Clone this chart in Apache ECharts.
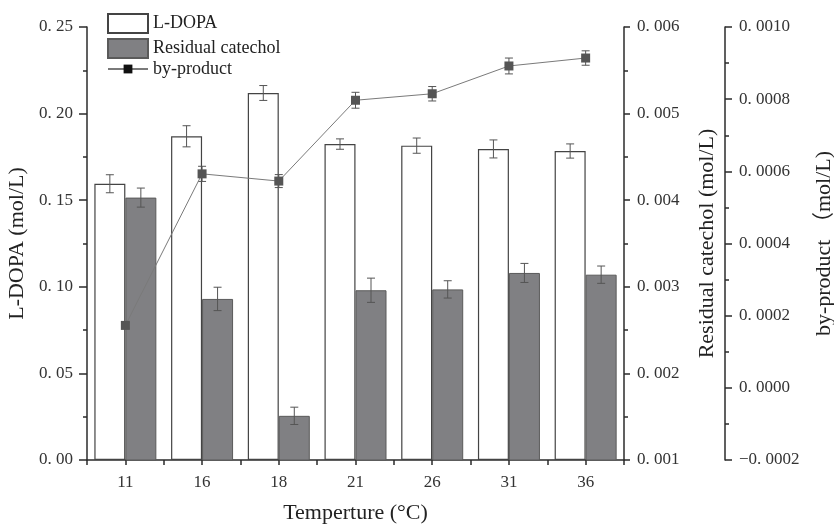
<!DOCTYPE html>
<html>
<head>
<meta charset="utf-8">
<script src="https://cdn.jsdelivr.net/npm/echarts@6/dist/echarts.min.js"></script>
<style>
html,body{margin:0;padding:0;background:#fff;}
#c{width:834px;height:524px;}
</style>
</head>
<body>
<div id="c"></div>
<script>
const categories = ['11', '16', '18', '21', '26', '31', '36'];
const ldopa = [0.1595, 0.1869, 0.2119, 0.1824, 0.1815, 0.1796, 0.1784];
const ldopaErr = [0.0052, 0.0061, 0.0043, 0.0030, 0.0044, 0.0052, 0.0041];
const catechol = [0.00403, 0.00286, 0.00151, 0.00296, 0.00297, 0.00316, 0.00314];
const catecholErr = [0.00011, 0.000135, 0.00010, 0.00014, 0.00010, 0.00011, 0.00010];
const byproduct = [0.000173, 0.000593, 0.000573, 0.000797, 0.000815, 0.000892, 0.000914];
const byproductErr = [0.000008, 0.000021, 0.000018, 0.000022, 0.00002, 0.000022, 0.00002];

const FONT = '"Liberation Serif", "Times New Roman", "Noto Sans CJK SC", serif';
const AXC = '#2b2b2b';

function fmt(d) {
  return function (v) {
    let s = Math.abs(v) < 1e-12 ? (0).toFixed(d) : v.toFixed(d);
    s = s.replace('.', '. ');
    if (s.charAt(0) === '-') s = '\u2212' + s.slice(1);
    return s;
  };
}

function errRender(offset) {
  return function (params, api) {
    const x = api.value(0), v = api.value(1), e = api.value(2);
    const hi = api.coord([x, v + e]);
    const lo = api.coord([x, v - e]);
    const cx = hi[0] + offset;
    const w = 4;
    const st = { stroke: '#555', lineWidth: 1 };
    return {
      type: 'group',
      children: [
        { type: 'line', shape: { x1: cx, y1: hi[1], x2: cx, y2: lo[1] }, style: st },
        { type: 'line', shape: { x1: cx - w, y1: hi[1], x2: cx + w, y2: hi[1] }, style: st },
        { type: 'line', shape: { x1: cx - w, y1: lo[1], x2: cx + w, y2: lo[1] }, style: st }
      ]
    };
  };
}

const chart = echarts.init(document.getElementById('c'), null, { renderer: 'canvas' });

function yAxisBase(extra) {
  return Object.assign({
    type: 'value',
    nameLocation: 'middle',
    nameTextStyle: { fontFamily: FONT, fontSize: 22, color: '#222' },
    axisLine: { show: true, onZero: false, lineStyle: { color: AXC, width: 1.5 } },
    axisTick: { show: true, inside: false, length: 8, lineStyle: { color: AXC, width: 1.5 } },
    minorTick: { show: true, splitNumber: 2, length: 4, lineStyle: { color: AXC, width: 1.5 } },
    splitLine: { show: false },
    axisLabel: { fontFamily: FONT, fontSize: 17, color: '#333' }
  }, extra);
}

const option = {
  animation: false,
  backgroundColor: '#fff',
  grid: { left: 87, right: 210, top: 27, bottom: 64, containLabel: false, outerBoundsMode: 'none' },
  legend: [
    {
      orient: 'vertical',
      left: 107,
      top: 13,
      padding: 0,
      itemWidth: 40,
      itemHeight: 19,
      itemGap: 4,
      textStyle: { fontFamily: FONT, fontSize: 18, color: '#222' },
      data: [
        { name: 'L-DOPA', icon: 'rect' },
        { name: 'Residual catechol', icon: 'rect' }
      ]
    },
    {
      orient: 'vertical',
      left: 107,
      top: 60,
      padding: 0,
      itemWidth: 40,
      itemHeight: 11,
      textStyle: { fontFamily: FONT, fontSize: 18, color: '#222' },
      data: [
        { name: 'by-product', itemStyle: { color: '#111' } }
      ]
    }
  ],
  xAxis: [
    {
      type: 'category',
      data: categories,
      position: 'bottom',
      name: 'Temperture (\u00b0C)',
      nameLocation: 'middle',
      nameGap: 42,
      nameTextStyle: { fontFamily: FONT, fontSize: 22, color: '#222' },
      axisLine: { show: true, onZero: false, lineStyle: { color: AXC, width: 1.5 } },
      axisTick: { show: true, alignWithLabel: true, length: 5, lineStyle: { color: AXC, width: 1.5 } },
      axisLabel: { fontFamily: FONT, fontSize: 17, color: '#333', margin: 14 }
    },
    {
      type: 'category',
      data: categories,
      position: 'bottom',
      axisLine: { show: false, onZero: false },
      axisTick: { show: true, alignWithLabel: false, length: 5, lineStyle: { color: AXC, width: 1.5 } },
      axisLabel: { show: false }
    }
  ],
  yAxis: [
    yAxisBase({
      position: 'left',
      min: 0, max: 0.25, interval: 0.05,
      name: 'L-DOPA (mol/L)',
      nameGap: 56,
      axisLabel: { fontFamily: FONT, fontSize: 17, color: '#333', margin: 14, formatter: fmt(2) }
    }),
    yAxisBase({
      position: 'right',
      offset: 0,
      min: 0.001, max: 0.006, interval: 0.001,
      name: 'Residual catechol (mol/L)',
      nameGap: 72,
      axisTick: { show: true, length: 6, lineStyle: { color: AXC, width: 1.5 } },
      axisLabel: { fontFamily: FONT, fontSize: 17, color: '#333', margin: 13, formatter: fmt(3) }
    }),
    yAxisBase({
      position: 'right',
      offset: 101,
      min: -0.0002, max: 0.0010, interval: 0.0002,
      name: 'by-product \uff08mol/L)',
      nameGap: 88,
      axisTick: { show: true, length: 7, lineStyle: { color: AXC, width: 1.5 } },
      axisLabel: { fontFamily: FONT, fontSize: 17, color: '#333', margin: 14, formatter: fmt(4) }
    })
  ],
  series: [
    {
      name: 'L-DOPA',
      type: 'bar',
      xAxisIndex: 0,
      yAxisIndex: 0,
      barWidth: 31,
      barGap: '0%',
      data: ldopa,
      itemStyle: { color: '#ffffff', borderColor: '#444', borderWidth: 1.2 },
      z: 2
    },
    {
      name: 'Residual catechol',
      type: 'bar',
      xAxisIndex: 0,
      yAxisIndex: 1,
      barWidth: 31,
      barGap: '0%',
      data: catechol,
      itemStyle: { color: '#808083', borderColor: '#5a5a5a', borderWidth: 1 },
      z: 2
    },
    {
      name: 'ldopa-err',
      type: 'custom',
      xAxisIndex: 0,
      yAxisIndex: 0,
      renderItem: errRender(-15.5),
      data: ldopa.map((v, i) => [i, v, ldopaErr[i]]),
      z: 3,
      silent: true
    },
    {
      name: 'catechol-err',
      type: 'custom',
      xAxisIndex: 0,
      yAxisIndex: 1,
      renderItem: errRender(15.5),
      data: catechol.map((v, i) => [i, v, catecholErr[i]]),
      z: 3,
      silent: true
    },
    {
      name: 'byproduct-err',
      type: 'custom',
      xAxisIndex: 0,
      yAxisIndex: 2,
      renderItem: errRender(0),
      data: byproduct.map((v, i) => [i, v, byproductErr[i]]),
      z: 4,
      silent: true
    },
    {
      name: 'by-product',
      type: 'line',
      xAxisIndex: 0,
      yAxisIndex: 2,
      data: byproduct,
      symbol: 'rect',
      symbolSize: 9,
      lineStyle: { color: '#7a7a7a', width: 1 },
      itemStyle: { color: '#555' },
      z: 5
    }
  ]
};
chart.setOption(option);
</script>
</body>
</html>
